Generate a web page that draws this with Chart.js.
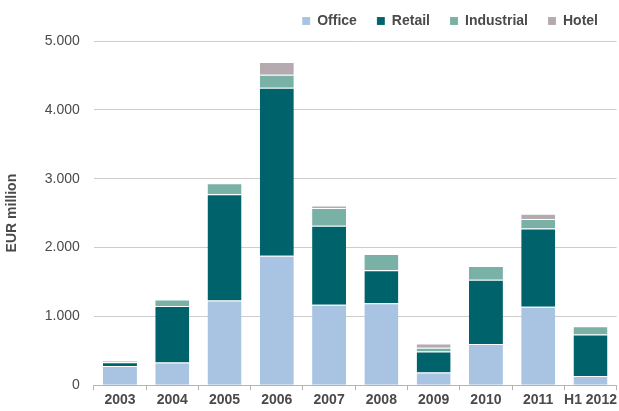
<!DOCTYPE html>
<html>
<head>
<meta charset="utf-8">
<script src="https://cdn.jsdelivr.net/npm/chart.js@4"></script>
<style>
  html, body { margin: 0; padding: 0; background: #fff; }
  #wrap { width: 619px; height: 411px; position: relative; }
</style>
</head>
<body>
<div id="wrap"><canvas id="investChart"></canvas></div>
<script>
'use strict';

// Investment volume by sector, EUR million
const years = ['2003', '2004', '2005', '2006', '2007', '2008', '2009', '2010', '2011', 'H1 2012'];
const office     = [280, 330, 1230, 1880, 1170, 1190, 185, 600, 1140, 135];
const retail     = [55, 820, 1545, 2440, 1145, 480, 305, 930, 1135, 600];
const industrial = [20, 95, 160, 190, 260, 235, 55, 200, 140, 120];
const hotel      = [0, 0, 0, 185, 35, 0, 60, 0, 75, 0];
const yTicks = [0, 1000, 2000, 3000, 4000, 5000];

const FONT = "'Liberation Sans', Arial, sans-serif";
const TEXT = '#4a4a4a';

function series(label, data, color) {
    return {
        label: label,
        data: data,
        backgroundColor: color,
        borderColor: 'rgba(255,255,255,0.45)',
        borderWidth: { top: 1, left: 0, right: 0, bottom: 0 },
        borderSkipped: false,
        barPercentage: 0.65,
        categoryPercentage: 1.0
    };
}

// a bit more room under the legend than Chart.js gives by default
const legendGap = {
    id: 'legendGap',
    afterInit(chart) {
        const fit = chart.legend.fit;
        chart.legend.fit = function () {
            fit.call(this);
            this.height += 3;
        };
    }
};

const ctx = document.getElementById('investChart');

new Chart(ctx, {
    type: 'bar',
    data: {
        labels: years,
        datasets: [
            series('Office', office, '#a9c4e2'),
            series('Retail', retail, '#00636b'),
            series('Industrial', industrial, '#7ab1a6'),
            series('Hotel', hotel, '#b4aaaf')
        ]
    },
    plugins: [legendGap],
    options: {
        responsive: true,
        maintainAspectRatio: false,
        animation: false,
        layout: { padding: { left: 4, right: 1, top: -6, bottom: 0 } },
        plugins: {
            legend: {
                position: 'top',
                align: 'end',
                labels: {
                    boxWidth: 8,
                    boxHeight: 8,
                    padding: 20,
                    color: TEXT,
                    font: { family: FONT, size: 14, weight: 'bold' }
                }
            },
            tooltip: { enabled: false }
        },
        scales: {
            x: {
                stacked: true,
                grid: {
                    offset: true,
                    drawOnChartArea: false,
                    drawTicks: true,
                    tickLength: 5,
                    color: '#b4b4b4'
                },
                border: { display: true, color: '#b4b4b4' },
                ticks: {
                    color: TEXT,
                    padding: 2,
                    autoSkip: false,
                    maxRotation: 0,
                    font: { family: FONT, size: 14, weight: 'bold' }
                }
            },
            y: {
                stacked: true,
                min: 0,
                max: 5000,
                afterBuildTicks: axis => { axis.ticks = yTicks.map(v => ({ value: v })); },
                grid: { color: '#cdcdcd', drawTicks: false },
                border: { display: false },
                title: {
                    display: true,
                    text: 'EUR million',
                    color: TEXT,
                    padding: { top: 0, bottom: 10 },
                    font: { family: FONT, size: 14, weight: 'bold' }
                },
                ticks: {
                    color: TEXT,
                    padding: 14,
                    font: { family: FONT, size: 14 },
                    callback: v => v === 0 ? '0' : (v / 1000).toFixed(3)
                }
            }
        }
    }
});
</script>
</body>
</html>
